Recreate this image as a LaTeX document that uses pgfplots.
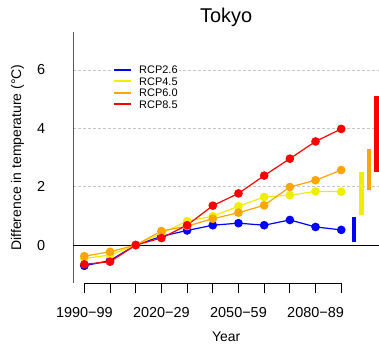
\documentclass[border=0pt]{standalone}
\usepackage{fontspec}
\setmainfont{Liberation Sans}
\usepackage{pgfplots}
\pgfplotsset{compat=1.18}

\definecolor{rcpblue}{RGB}{0,0,255}
\definecolor{rcpyellow}{RGB}{238,238,0}
\definecolor{rcporange}{RGB}{255,165,0}
\definecolor{rcpred}{RGB}{255,0,0}

\begin{document}
\begin{tikzpicture}
\useasboundingbox (-73.3bp,-66.7bp) rectangle (305.7bp,283.3bp);
\begin{axis}[
  scale only axis, width=305.7bp, height=251.6bp,
  xmin=-0.43, xmax=11.47, ymin=-1.31, ymax=7.31,
  axis line style={draw=none},
  /pgf/number format/assume math mode=true,
  xtick={0,...,10},
  xticklabels={1990−99,,,2020−29,,,2050−59,,,2080−89,},
  xtick pos=lower, tick align=outside,
  major tick length=10bp,
  xtick style={black, line width=1bp},
  ytick={0,2,4,6}, ytick style={draw=none},
  ymajorgrids, grid style={densely dashed, black!22, line width=0.6bp},
  ticklabel style={font=\fontsize{14.5}{16}\selectfont},
  yticklabel style={xshift=-14.5bp},
  xticklabel style={anchor=base, yshift=-24bp},
  title={Tokyo},
  title style={at={(axis description cs:0.5,1)}, anchor=base, yshift=3.4bp,
    font=\fontsize{20}{22}\selectfont},
  xlabel={Year},
  xlabel style={at={(axis description cs:0.5,-0.2134)}, anchor=center,
    font=\fontsize{14}{16}\selectfont},
  ylabel={Difference in temperature (°C)},
  ylabel style={at={(axis description cs:-0.1825,0.5)}, anchor=center,
    font=\fontsize{14}{16}\selectfont},
  legend style={at={(axis description cs:0.1300,0.8716)}, anchor=north west,
    draw=none, fill=white, inner sep=0pt, row sep=0pt,
    font=\fontsize{11}{13}\selectfont,
    nodes={inner sep=1bp, text height=8.5bp, text depth=1bp},
    /tikz/every odd column/.append style={column sep=6bp}},
  legend cell align=left,
  legend image code/.code={\draw[line width=2bp] (0bp,0bp) -- (17bp,0bp);},
  every axis plot/.append style={line width=1.2bp, mark=*, mark size=3.7bp},
]
% axis lines drawn in the R style: full-height y axis, x axis spanning the ticks
\draw[black, line width=1bp] (axis cs:0,-1.31) -- (axis cs:10,-1.31);
\draw[black, line width=1bp] (axis cs:-0.43,-1.31) -- (axis cs:-0.43,7.31);
\draw[black, line width=0.9bp] (axis cs:-0.43,0) -- (axis cs:11.47,0);

\addplot[rcpblue, mark options={fill=rcpblue, draw=rcpblue}] coordinates {
  (0,-0.71) (1,-0.53) (2,0) (3,0.30) (4,0.50) (5,0.68) (6,0.75)
  (7,0.68) (8,0.86) (9,0.62) (10,0.52)};
\addlegendentry{RCP2.6}
\addplot[rcpyellow, mark options={fill=rcpyellow, draw=rcpyellow}] coordinates {
  (0,-0.46) (1,-0.34) (2,0) (3,0.40) (4,0.82) (5,0.99) (6,1.33)
  (7,1.65) (8,1.71) (9,1.84) (10,1.83)};
\addlegendentry{RCP4.5}
\addplot[rcporange, mark options={fill=rcporange, draw=rcporange}] coordinates {
  (0,-0.38) (1,-0.23) (2,0) (3,0.48) (4,0.65) (5,0.90) (6,1.11)
  (7,1.36) (8,1.99) (9,2.22) (10,2.57)};
\addlegendentry{RCP6.0}
\addplot[rcpred, mark options={fill=rcpred, draw=rcpred}] coordinates {
  (0,-0.66) (1,-0.57) (2,0) (3,0.24) (4,0.68) (5,1.35) (6,1.77)
  (7,2.38) (8,2.96) (9,3.55) (10,3.98)};
\addlegendentry{RCP8.5}

% likely ranges at the end of the century
\addplot[rcpblue, line width=4.5bp, mark=none, forget plot] coordinates {(10.50,0.10) (10.50,0.95)};
\addplot[rcpyellow, line width=4.5bp, mark=none, forget plot] coordinates {(10.79,1.02) (10.79,2.50)};
\addplot[rcporange, line width=4.5bp, mark=none, forget plot] coordinates {(11.08,1.90) (11.08,3.30)};
\addplot[rcpred, line width=4.5bp, mark=none, forget plot] coordinates {(11.37,2.52) (11.37,5.10)};
\end{axis}
\end{tikzpicture}
\end{document}
